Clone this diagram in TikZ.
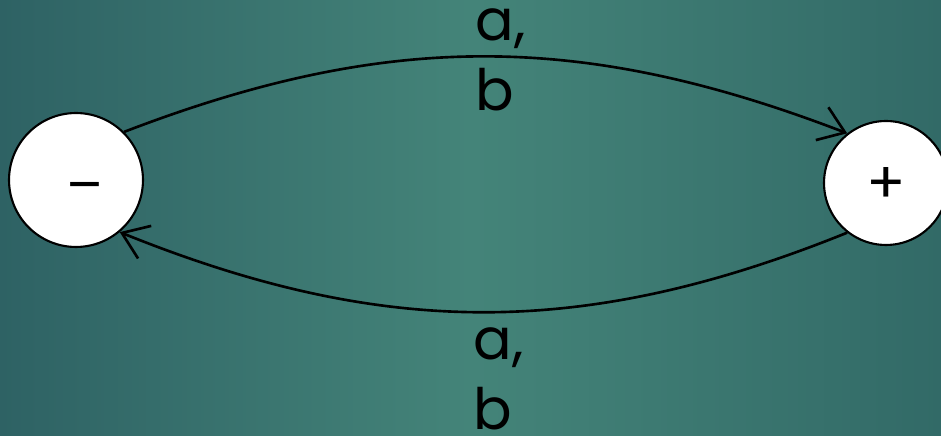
\documentclass[tikz,border=0pt]{standalone}
\usepackage{fontspec}
\setmainfont{Poppins}
\usetikzlibrary{arrows.meta}
\definecolor{bgEdge}{RGB}{46,98,100}
\definecolor{bgMid}{RGB}{68,132,121}
\definecolor{bgRight}{RGB}{50,106,103}

\begin{document}
\begin{tikzpicture}[x=0.02cm, y=0.02cm, >={Straight Barb[length=14pt,width=20pt]},
  state/.style={circle, draw=black, fill=white, line width=1.2pt, inner sep=0pt},
  lbl/.style={align=left, font=\fontsize{32.5}{40}\selectfont}]
% 背景
\shade[left color=bgEdge, right color=bgRight, middle color=bgMid] (0,0) rectangle (941,436);
\useasboundingbox (0,0) rectangle (941,436);
% 状态
\node[state, minimum size=2.68cm, font=\fontsize{31}{32}\selectfont] (minus) at (76,256)
  {\hspace*{0.36cm}\smash{\raisebox{-0.50cm}{–}}};
\node[state, minimum size=2.48cm, font=\fontsize{33}{33}\selectfont] (plus) at (886,253)
  {\smash{\raisebox{-0.42cm}{+}}};
% 转移
\draw[->, line width=1.5pt] (minus.45) to[out=21, in=159]
  node[lbl, midway, xshift=0.3cm, yshift=-0.06cm] (toplbl) {a,\\b} (plus.128);
\draw[->, line width=1.5pt] (plus.232) to[out=202, in=-22]
  node[lbl, midway, below=0.16cm, xshift=0.3cm] (botlbl) {a,\\b} (minus.310);
\end{tikzpicture}
\end{document}
